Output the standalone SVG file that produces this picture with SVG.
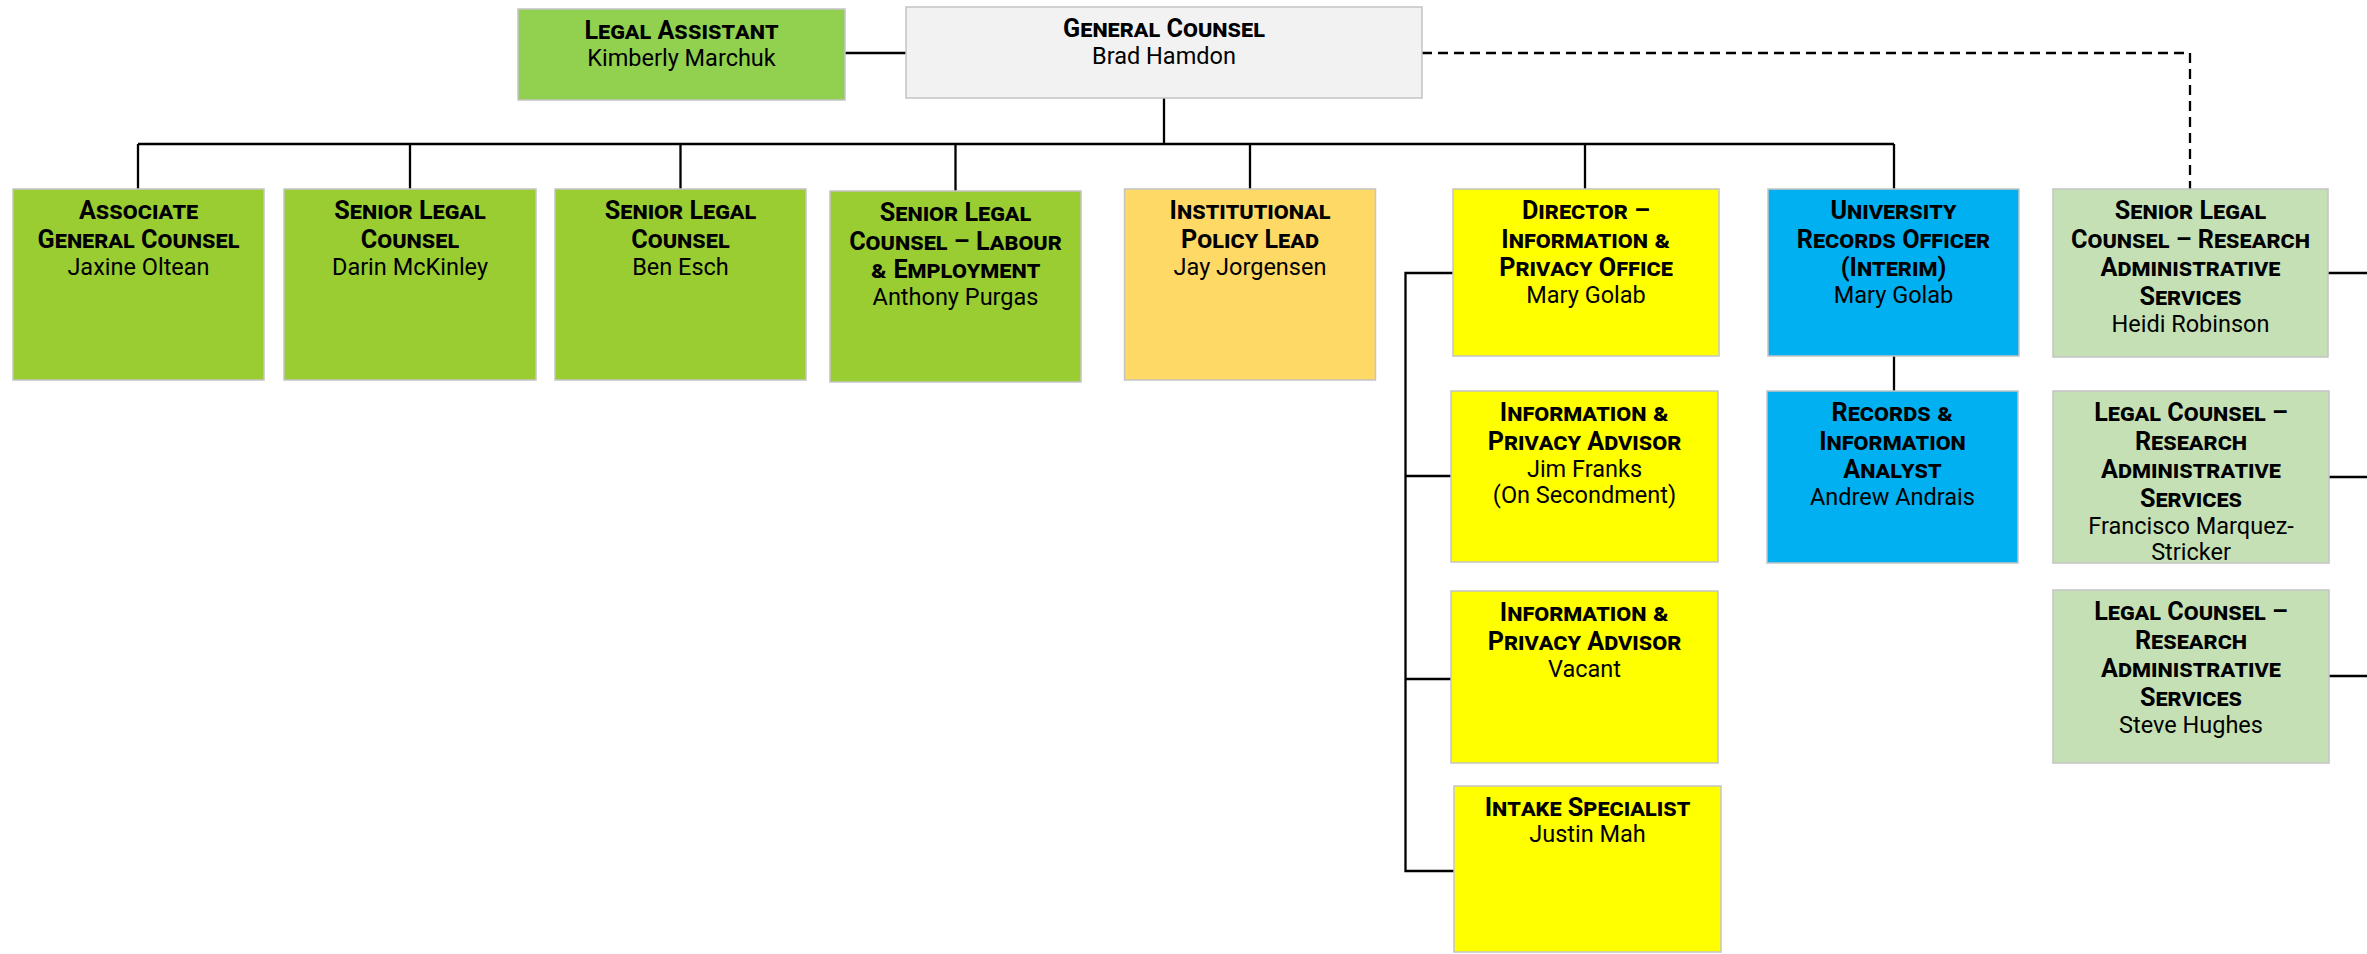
<svg xmlns="http://www.w3.org/2000/svg" width="2367" height="954" viewBox="0 0 2367 954">
<style>
.box{stroke:#c4c4c4;stroke-width:1.5}
.g1{fill:#92D050}.g2{fill:#9ACD32}.gc{fill:#F2F2F2}.or{fill:#FFD966}.ye{fill:#FFFF00}.bl{fill:#00B0F0}.lg{fill:#C5E0B4}
.t{font-family:Roboto,"Liberation Sans",sans-serif;font-size:25.2px;font-weight:700;font-variant:small-caps;text-anchor:middle;fill:#000}
.n{font-family:Roboto,"Liberation Sans",sans-serif;font-size:23.5px;text-anchor:middle;fill:#000}
.ln{stroke:#000;stroke-width:2.3;fill:none}
.dash{stroke-dasharray:10 6}
</style>
<rect width="2367" height="954" fill="#fff"/>
<g id="connectors">
<path class="ln" d="M845 53H906"/>
<path class="ln" d="M1164 98V144"/>
<path class="ln" d="M138 144H1894"/>
<path class="ln" d="M138 144V189M410 144V189M680.5 144V189M955.5 144V191M1250 144V189M1585 144V189M1894 144V189"/>
<path class="ln" d="M1894 356V391"/>
<path class="ln" d="M1453 273H1405.5V871H1454M1405.5 476H1451M1405.5 679H1451"/>
<path class="ln" d="M2328 273H2367M2329 477H2367M2329 676H2367"/>
<path class="ln dash" d="M1422 53H2190V189"/>
</g>
<g id="legal-assistant"><rect class="box g1" x="518" y="9" width="327" height="91"/>
<text class="t" x="681.5" y="39">Legal Assistant</text><text class="n" x="681.5" y="66">Kimberly Marchuk</text></g>
<g id="general-counsel"><rect class="box gc" x="906" y="7" width="516" height="91"/>
<text class="t" x="1164" y="37">General Counsel</text><text class="n" x="1164" y="64">Brad Hamdon</text></g>
<g id="associate-general-counsel"><rect class="box g2" x="13" y="189" width="251" height="191"/>
<text class="t" x="138.5" y="219">Associate</text><text class="t" x="138.5" y="247.5">General Counsel</text><text class="n" x="138.5" y="274.5">Jaxine Oltean</text></g>
<g id="senior-legal-counsel-darin"><rect class="box g2" x="284" y="189" width="252" height="191"/>
<text class="t" x="410" y="219">Senior Legal</text><text class="t" x="410" y="247.5">Counsel</text><text class="n" x="410" y="274.5">Darin McKinley</text></g>
<g id="senior-legal-counsel-ben"><rect class="box g2" x="555" y="189" width="251" height="191"/>
<text class="t" x="680.5" y="219">Senior Legal</text><text class="t" x="680.5" y="247.5">Counsel</text><text class="n" x="680.5" y="274.5">Ben Esch</text></g>
<g id="senior-legal-counsel-labour"><rect class="box g2" x="830" y="191" width="251" height="191"/>
<text class="t" x="955.5" y="221">Senior Legal</text><text class="t" x="955.5" y="249.5">Counsel – Labour</text><text class="t" x="955.5" y="278">&amp; Employment</text><text class="n" x="955.5" y="305">Anthony Purgas</text></g>
<g id="institutional-policy-lead"><rect class="box or" x="1124.5" y="189" width="251" height="191"/>
<text class="t" x="1250" y="219">Institutional</text><text class="t" x="1250" y="247.5">Policy Lead</text><text class="n" x="1250" y="274.5">Jay Jorgensen</text></g>
<g id="director-privacy"><rect class="box ye" x="1453" y="189" width="266" height="167"/>
<text class="t" x="1586" y="219">Director –</text><text class="t" x="1586" y="247.5">Information &amp;</text><text class="t" x="1586" y="276">Privacy Office</text><text class="n" x="1586" y="303">Mary Golab</text></g>
<g id="university-records-officer"><rect class="box bl" x="1768" y="189" width="251" height="167"/>
<text class="t" x="1893.5" y="219">University</text><text class="t" x="1893.5" y="247.5">Records Officer</text><text class="t" x="1893.5" y="276">(Interim)</text><text class="n" x="1893.5" y="303">Mary Golab</text></g>
<g id="senior-legal-counsel-research"><rect class="box lg" x="2053" y="189" width="275" height="168"/>
<text class="t" x="2190.5" y="219">Senior Legal</text><text class="t" x="2190.5" y="247.5">Counsel – Research</text><text class="t" x="2190.5" y="276">Administrative</text><text class="t" x="2190.5" y="304.5">Services</text><text class="n" x="2190.5" y="331.5">Heidi Robinson</text></g>
<g id="privacy-advisor-jim"><rect class="box ye" x="1451" y="391" width="267" height="171"/>
<text class="t" x="1584.5" y="421">Information &amp;</text><text class="t" x="1584.5" y="449.5">Privacy Advisor</text><text class="n" x="1584.5" y="476.5">Jim Franks</text><text class="n" x="1584.5" y="503">(On Secondment)</text></g>
<g id="records-information-analyst"><rect class="box bl" x="1767" y="391" width="251" height="172"/>
<text class="t" x="1892.5" y="421">Records &amp;</text><text class="t" x="1892.5" y="449.5">Information</text><text class="t" x="1892.5" y="478">Analyst</text><text class="n" x="1892.5" y="505">Andrew Andrais</text></g>
<g id="legal-counsel-research-francisco"><rect class="box lg" x="2053" y="391" width="276" height="172"/>
<text class="t" x="2191" y="421">Legal Counsel –</text><text class="t" x="2191" y="449.5">Research</text><text class="t" x="2191" y="478">Administrative</text><text class="t" x="2191" y="506.5">Services</text><text class="n" x="2191" y="533.5">Francisco Marquez-</text><text class="n" x="2191" y="560">Stricker</text></g>
<g id="privacy-advisor-vacant"><rect class="box ye" x="1451" y="591" width="267" height="172"/>
<text class="t" x="1584.5" y="621">Information &amp;</text><text class="t" x="1584.5" y="649.5">Privacy Advisor</text><text class="n" x="1584.5" y="676.5">Vacant</text></g>
<g id="legal-counsel-research-steve"><rect class="box lg" x="2053" y="590" width="276" height="173"/>
<text class="t" x="2191" y="620">Legal Counsel –</text><text class="t" x="2191" y="648.5">Research</text><text class="t" x="2191" y="677">Administrative</text><text class="t" x="2191" y="705.5">Services</text><text class="n" x="2191" y="732.5">Steve Hughes</text></g>
<g id="intake-specialist"><rect class="box ye" x="1454" y="786" width="267" height="166"/>
<text class="t" x="1587.5" y="816">Intake Specialist</text><text class="n" x="1587.5" y="842">Justin Mah</text></g>
</svg>
